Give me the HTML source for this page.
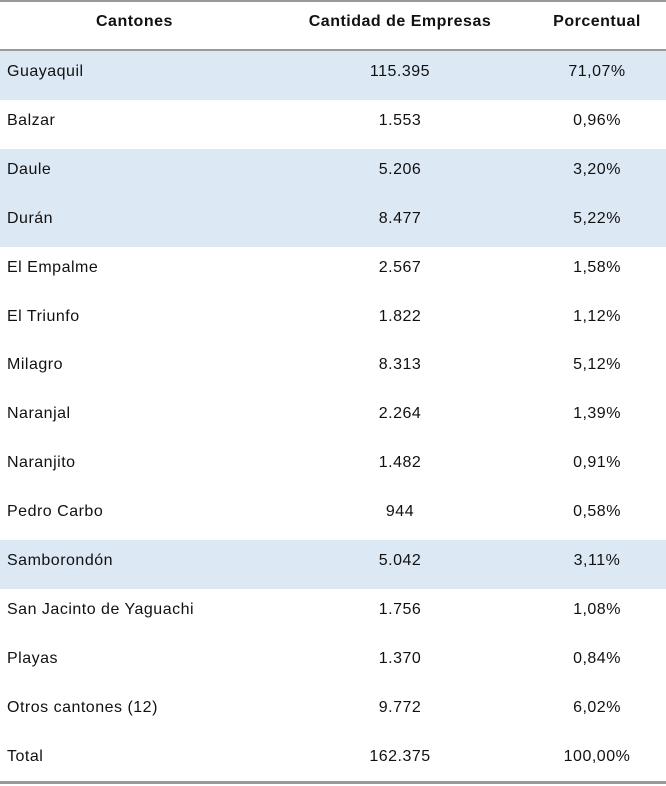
<!DOCTYPE html>
<html><head><meta charset="utf-8"><style>
body{margin:0;width:666px;height:786px;background:#fff;font-family:"Liberation Sans",Arial,sans-serif;font-size:16px;letter-spacing:0.5px;color:#111;position:relative;overflow:hidden}
.r{position:absolute;left:0;width:666px;height:49px}
.r.h{background:#dde8f5}
.c{position:absolute;top:0;line-height:42px;white-space:nowrap}
.c1{left:7px}
.c2{left:300px;width:200px;text-align:center}
.c3{left:517px;width:160px;text-align:center}
.hd{font-weight:bold;line-height:44px}
.line{position:absolute;left:0;width:666px;background:#999}
</style></head><body>
<div class="line" style="top:0;height:2px"></div>
<div class="r" style="top:0;height:48px">
<div class="c c1 hd" style="left:96px">Cantones</div>
<div class="c c2 hd">Cantidad de Empresas</div>
<div class="c c3 hd">Porcentual</div>
</div>
<div class="line" style="top:49px;height:2px"></div>
<div id="rows"></div>
<div class="line" style="top:781px;height:3px"></div>
<script>
const names=["Guayaquil","Balzar","Daule","Durán","El Empalme","El Triunfo","Milagro","Naranjal","Naranjito","Pedro Carbo","Samborondón","San Jacinto de Yaguachi","Playas","Otros cantones (12)","Total"];
const counts=["115.395","1.553","5.206","8.477","2.567","1.822","8.313","2.264","1.482","944","5.042","1.756","1.370","9.772","162.375"];
const pcts=["71,07%","0,96%","3,20%","5,22%","1,58%","1,12%","5,12%","1,39%","0,91%","0,58%","3,11%","1,08%","0,84%","6,02%","100,00%"];
const highlighted=[0,2,3,10];
const wrap=document.getElementById('rows');
names.forEach((n,i)=>{
  const r=document.createElement('div');
  r.className='r'+(highlighted.includes(i)?' h':'');
  r.style.top=(51+i*48.9)+'px';
  
  
  const a=document.createElement('div');a.className='c c1';a.textContent=n;
  
  
  const b=document.createElement('div');b.className='c c2';b.textContent=counts[i];
  
  
  const c=document.createElement('div');c.className='c c3';c.textContent=pcts[i];
  
  
  r.append(a,b,c);wrap.appendChild(r);
});
</script>
</body></html>
